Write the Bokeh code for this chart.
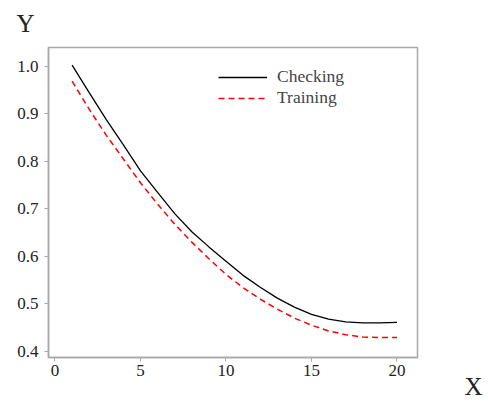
from bokeh.plotting import figure
from bokeh.models import FixedTicker, NumeralTickFormatter, Range1d, Title, Legend, LegendItem
from bokeh.embed import file_html
from bokeh.resources import INLINE

x_vals = list(range(1, 21))
checking = [1.003, 0.945, 0.888, 0.835, 0.780, 0.735, 0.690, 0.652, 0.620, 0.590,
            0.560, 0.535, 0.512, 0.493, 0.478, 0.468, 0.462, 0.460, 0.460, 0.461]
training = [0.969, 0.910, 0.855, 0.805, 0.755, 0.710, 0.668, 0.630, 0.595, 0.562,
            0.534, 0.510, 0.489, 0.470, 0.455, 0.443, 0.435, 0.430, 0.429, 0.429]
x_ticks = [0, 5, 10, 15, 20]
y_ticks = [0.4, 0.5, 0.6, 0.7, 0.8, 0.9, 1.0]

FONT = "Liberation Serif"
GRAY = "#a8a8a8"

p = figure(width=488, height=403, output_backend="svg", toolbar_location=None,
           x_range=Range1d(-0.38, 21.2), y_range=Range1d(0.387, 1.04),
           min_border_left=48, min_border_top=47, min_border_right=71, min_border_bottom=46)
p.xgrid.visible = False
p.ygrid.visible = False
p.outline_line_color = GRAY
p.outline_line_width = 1.5
p.background_fill_color = "white"
p.border_fill_color = "white"

for ax in (p.xaxis[0], p.yaxis[0]):
    ax.axis_line_color = GRAY
    ax.axis_line_width = 1.5
    ax.major_tick_line_color = GRAY
    ax.major_tick_in = 0
    ax.major_tick_out = 4
    ax.minor_tick_line_color = None
    ax.major_label_text_font = FONT
    ax.major_label_text_font_size = "17px"
    ax.major_label_text_color = "#222222"

p.xaxis.ticker = FixedTicker(ticks=x_ticks)
p.yaxis.ticker = FixedTicker(ticks=y_ticks)
p.yaxis.formatter = NumeralTickFormatter(format="0.0")
p.xaxis.major_label_standoff = 3
p.yaxis.major_label_standoff = 6

r1 = p.line(x_vals, checking, line_color="black", line_width=1.3)
r2 = p.line(x_vals, training, line_color="red", line_width=1.5, line_dash="6 4")

legend = Legend(items=[LegendItem(label="Checking", renderers=[r1]),
                       LegendItem(label="Training", renderers=[r2])],
                location=(170, 249), padding=0, margin=0, spacing=0,
                glyph_width=49, glyph_height=20, label_height=20, label_standoff=10,
                label_text_font=FONT, label_text_font_size="17.5px",
                border_line_color=None, background_fill_alpha=0)
p.add_layout(legend)

y_title = Title(text="Y", align="left", offset=-32, standoff=17, vertical_align="top",
                text_font=FONT, text_font_size="25px", text_font_style="normal",
                text_color="#222222")
p.add_layout(y_title, "above")

x_title = Title(text="X", align="right", offset=-65, standoff=-12, vertical_align="top",
                text_font=FONT, text_font_size="25px", text_font_style="normal",
                text_color="#222222")
p.add_layout(x_title, "below")

open("out.html", "w").write(file_html(p, INLINE))
